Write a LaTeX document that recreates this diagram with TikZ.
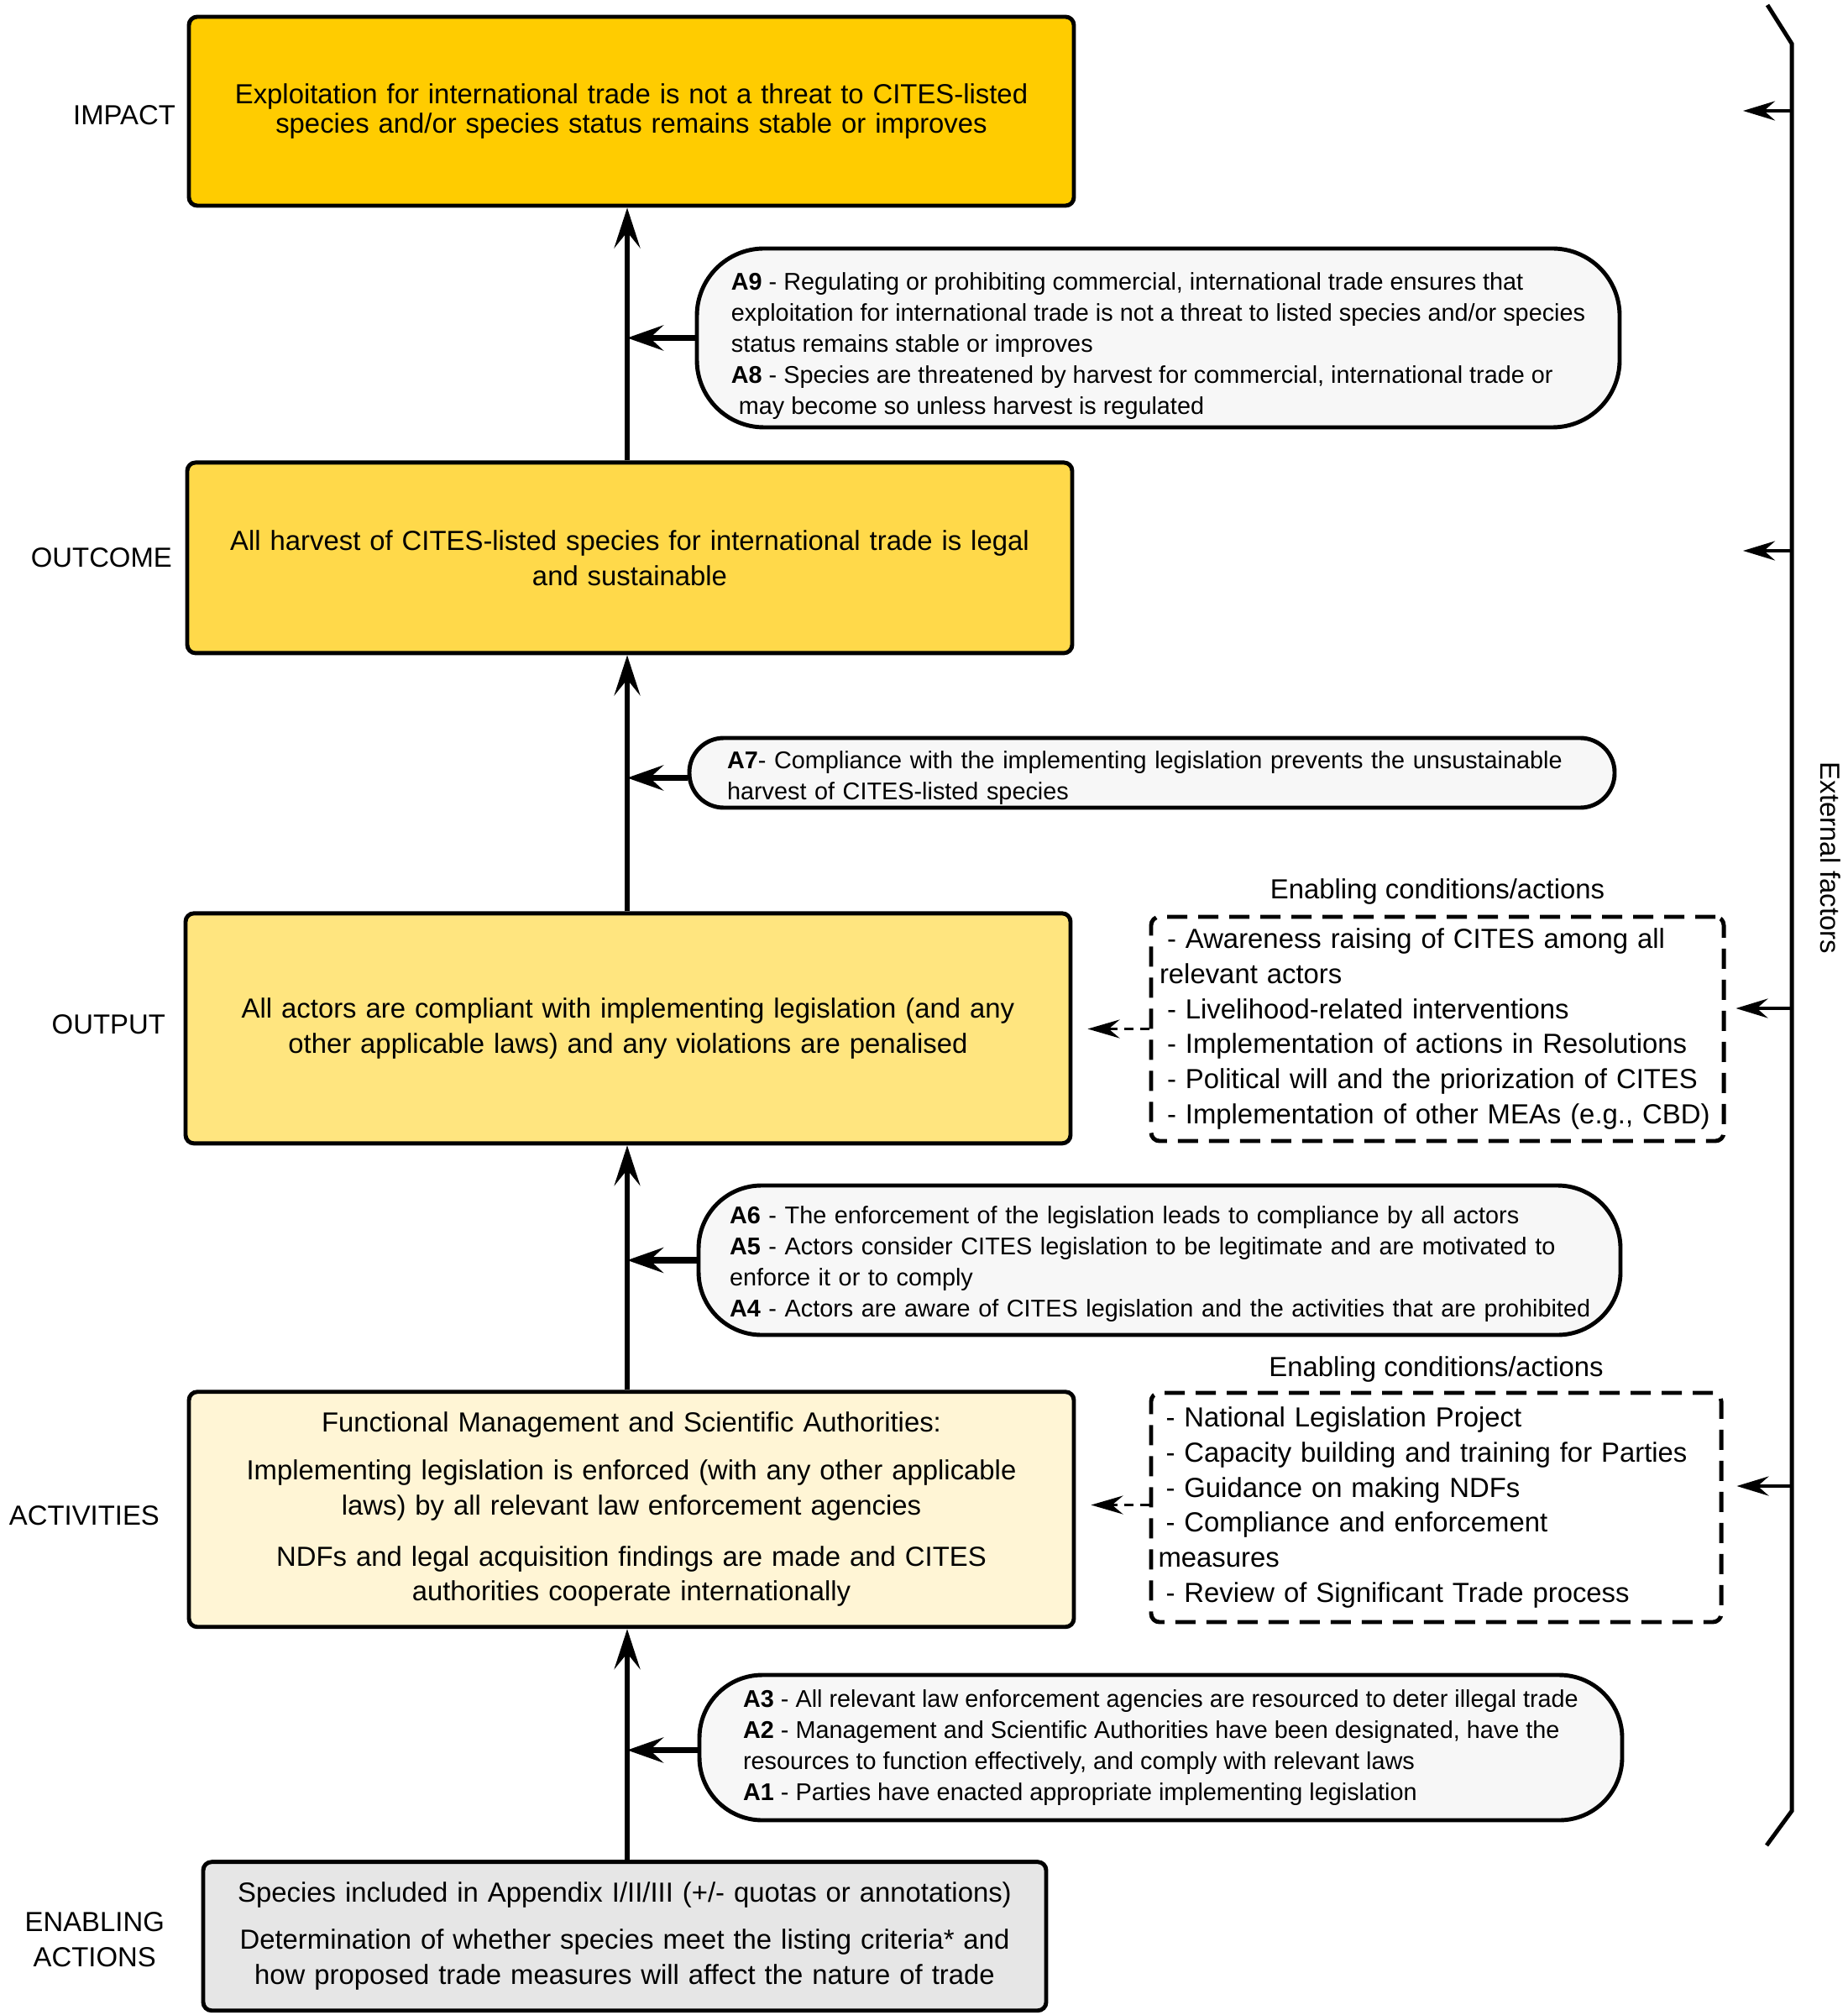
\documentclass[tikz,border=0pt]{standalone}
\usepackage{fontspec}
\setmainfont{Liberation Sans}
\usepackage{tikz}
\usetikzlibrary{arrows.meta, positioning, calc}

\definecolor{impactgold}{HTML}{FFCC00}
\definecolor{outcomegold}{HTML}{FFD94A}
\definecolor{outputgold}{HTML}{FFE57F}
\definecolor{activitycream}{HTML}{FFF5D5}
\definecolor{enablinggrey}{HTML}{E6E6E6}
\definecolor{pillgrey}{HTML}{F7F7F7}
\hfuzz=30pt

\begin{document}
\begin{tikzpicture}[
        level/.style={rectangle, draw, line width=1.4pt, rounded corners=1mm, inner sep=0, minimum width=10.54cm, text width=10cm, align=center, font=\fontsize{9.35}{11.9}\selectfont},
        tier/.style={inner sep=0, align=center, font=\fontsize{9.35}{11.9}\selectfont},
        assumption/.style={rectangle, draw, line width=1.4pt, fill=pillgrey, inner sep=0, align=left, font=\fontsize{8.2}{10.5}\selectfont},
        condition/.style={rectangle, draw, line width=1.4pt, dash pattern=on 2.4mm off 1.3mm, rounded corners=1mm, inner sep=0, text width=6.62cm, align=left, font=\fontsize{9.35}{11.9}\selectfont},
        flow/.style={-{Stealth[length=4.8mm, width=3.1mm, inset=1.9mm]}, line width=1.6pt},
        assume/.style={-{Stealth[length=4.3mm, width=3mm, inset=1.6mm]}, line width=2pt},
        enable/.style={-{Stealth[length=3.8mm, width=2.2mm, inset=1.3mm]}, line width=1.1pt, dash pattern=on 1.1mm off 0.8mm},
        external/.style={-{Stealth[length=3.8mm, width=2.3mm, inset=1.3mm]}, line width=1.2pt}
      ]

      \useasboundingbox (0,0) rectangle (22,-24);

      % Results chain
      \node[level, fill=impactgold, minimum height=2.25cm, font=\fontsize{9.35}{10}\selectfont] (impact) at (7.52,-1.325)
        {Exploitation for international trade is not a threat to CITES-listed\\ species and/or species status remains stable or improves};
      \node[level, fill=outcomegold, minimum height=2.27cm, below=3.01cm of impact, xshift=-0.02cm] (outcome)
        {All harvest of CITES-listed species for international trade is legal\\ and sustainable};
      \node[level, fill=outputgold, minimum height=2.74cm, below=3.05cm of outcome, xshift=-0.02cm] (output)
        {All actors are compliant with implementing legislation (and any\\ other applicable laws) and any violations are penalised};
      \node[level, fill=activitycream, minimum height=2.8cm, below=2.91cm of output, xshift=0.04cm] (activities)
        {Functional Management and Scientific Authorities:\\[1.5mm]
         Implementing legislation is enforced (with any other applicable\\ laws) by all relevant law enforcement agencies\\[1.9mm]
         NDFs and legal acquisition findings are made and CITES\\ authorities cooperate internationally};
      \node[level, fill=enablinggrey, minimum width=10.04cm, text width=9.6cm, minimum height=1.77cm, below=2.75cm of activities, xshift=-0.08cm] (enabling)
        {Species included in Appendix I/II/III (+/- quotas or annotations)\\[1.4mm]
         Determination of whether species meet the listing criteria* and\\ how proposed trade measures will affect the nature of trade};

      % Level labels
      \node[tier, left=0.13cm of impact, yshift=-0.045cm] (impactlbl) {IMPACT};
      \node[tier, left=0.15cm of outcome] (outcomelbl) {OUTCOME};
      \node[tier, left=0.21cm of output, yshift=0.045cm] (outputlbl) {OUTPUT};
      \node[tier, left=0.32cm of activities, yshift=-0.075cm] (activitieslbl) {ACTIVITIES};
      \node[tier, left=0.43cm of enabling, yshift=-0.04cm] (enablinglbl) {ENABLING\\ ACTIONS};

      % Assumptions
      \node[assumption, rounded corners=0.8cm, minimum width=10.99cm, minimum height=2.13cm] (a9) at (13.795,-4.025)
        {\rule{0pt}{4mm}\textbf{A9} - Regulating or prohibiting commercial, international trade ensures that\\
         exploitation for international trade is not a threat to listed species and/or species\\
         status remains stable or improves\\
         \textbf{A8} - Species are threatened by harvest for commercial, international trade or\\
         \hspace*{0.9mm}may become so unless harvest is regulated};
      \node[assumption, rounded corners=0.41cm, minimum width=11.02cm, minimum height=0.83cm, text width=10.12cm] (a7) at (13.72,-9.205)
        {\rule{0pt}{3.3mm}\textbf{A7}- Compliance with the implementing legislation prevents the unsustainable\\
         harvest of CITES-listed species};
      \node[assumption, rounded corners=0.75cm, minimum width=10.98cm, minimum height=1.78cm, text width=10.24cm] (a6) at (13.81,-15.01)
        {\rule{0pt}{3mm}\textbf{A6} - The enforcement of the legislation leads to compliance by all actors\\
         \textbf{A5} - Actors consider CITES legislation to be legitimate and are motivated to\\
         enforce it or to comply\\
         \mbox{\textbf{A4} - Actors are aware of CITES legislation and the activities that are prohibited}};
      \node[assumption, rounded corners=0.75cm, minimum width=10.99cm, minimum height=1.73cm] (a3) at (13.825,-20.815)
        {\textbf{A3} - All relevant law enforcement agencies are resourced to deter illegal trade\\
         \textbf{A2} - Management and Scientific Authorities have been designated, have the\\
         resources to function effectively, and comply with relevant laws\\
         \textbf{A1} - Parties have enacted appropriate implementing legislation};

      % Enabling conditions
      \node[condition, minimum width=6.82cm, minimum height=2.67cm] (cond1) at (17.12,-12.255)
        {\hspace*{0.9mm}- Awareness raising of CITES among all\\
         relevant actors\\
         \hspace*{0.9mm}- Livelihood-related interventions\\
         \hspace*{0.9mm}- Implementation of actions in Resolutions\\
         \hspace*{0.9mm}- Political will and the priorization of CITES\\
         \hspace*{0.9mm}- Implementation of other MEAs (e.g., CBD)};
      \node[tier, above=1.2mm of cond1] (cond1lbl) {Enabling conditions/actions};
      \node[condition, minimum width=6.79cm, minimum height=2.73cm] (cond2) at (17.105,-17.955)
        {\hspace*{0.9mm}- National Legislation Project\\
         \hspace*{0.9mm}- Capacity building and training for Parties\\
         \hspace*{0.9mm}- Guidance on making NDFs\\
         \hspace*{0.9mm}- Compliance and enforcement\\
         measures\\
         \hspace*{0.9mm}- Review of Significant Trade process};
      \node[tier, above=1.0mm of cond2] (cond2lbl) {Enabling conditions/actions};

      % External factors
      \node[tier, rotate=-90] (extlbl) at (21.8,-10.22) {External factors};
      \coordinate (bracetop) at (21.34,-0.52);
      \coordinate (bracebot) at (21.34,-21.57);
      \draw[line width=1.4pt] (21.05,-0.06) -- (bracetop) -- (bracebot) -- (21.04,-21.98);

      % Connections
      \coordinate (spine) at (7.47,0);
      \draw[flow] (enabling.north -| spine) -- (activities.south -| spine);
      \draw[flow] (activities.north -| spine) -- (output.south -| spine);
      \draw[flow] (output.north -| spine) -- (outcome.south -| spine);
      \draw[flow] (outcome.north -| spine) -- (impact.south -| spine);

      \coordinate (a7w) at ([yshift=-0.06cm]a7.west);
      \coordinate (a3w) at ([yshift=-0.03cm]a3.west);
      \draw[assume] (a9.west) -- (a9.west -| spine);
      \draw[assume] (a7w) -- (a7w -| spine);
      \draw[assume] (a6.west) -- (a6.west -| spine);
      \draw[assume] (a3w) -- (a3w -| spine);

      \coordinate (c2w) at ([yshift=0.03cm]cond2.west);
      \coordinate (outtip) at ([xshift=0.18cm]output.east);
      \coordinate (acttip) at ([xshift=0.18cm]activities.east);
      \draw[enable] (cond1.west) -- (outtip |- cond1.west);
      \draw[enable] (c2w) -- (acttip |- c2w);

      \coordinate (ext1) at (21.34,-1.32);
      \coordinate (ext2) at (21.34,-6.56);
      \coordinate (ext3) at (21.34,-12.01);
      \coordinate (ext4) at (21.34,-17.70);
      \coordinate (c1e) at ([xshift=0.12cm]cond1.east);
      \coordinate (c2e) at ([xshift=0.16cm]cond2.east);
      \draw[external] (ext1) -- (20.76,-1.32);
      \draw[external] (ext2) -- (20.76,-6.56);
      \draw[external] (ext3) -- (c1e |- ext3);
      \draw[external] (ext4) -- (c2e |- ext4);

\end{tikzpicture}
\end{document}
